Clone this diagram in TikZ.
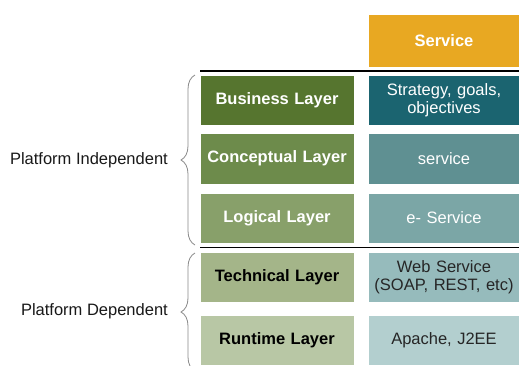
\documentclass[tikz,border=0pt]{standalone}
\usepackage{fontspec}
\setmainfont{Liberation Sans}
\usetikzlibrary{decorations.pathreplacing}
\definecolor{cService}{HTML}{E8A822}
\definecolor{cBus}{HTML}{56752F}
\definecolor{cCon}{HTML}{6D8B4B}
\definecolor{cLog}{HTML}{88A06A}
\definecolor{cTec}{HTML}{A4B589}
\definecolor{cRun}{HTML}{B8C7A5}
\definecolor{rBus}{HTML}{1B6470}
\definecolor{rCon}{HTML}{5F9092}
\definecolor{rLog}{HTML}{7BA6A6}
\definecolor{rTec}{HTML}{96BBBC}
\definecolor{rRun}{HTML}{B3CFCF}
\definecolor{braceGray}{HTML}{8A8A8A}
\tikzset{
  box/.style={rectangle, inner sep=0pt, draw=white, line width=0.6pt,
    font=\fontsize{16.5}{18.5}\selectfont, align=center, text width=150pt},
  lbox/.style={box, minimum width=154pt, minimum height=50pt, font=\fontsize{16.5}{18.5}\selectfont\bfseries},
  rbox/.style={box, minimum width=152pt, minimum height=50pt},
  sep/.style={line width=1.3pt, black},
  brc/.style={draw=braceGray, line width=0.8pt, decorate, decoration={brace, amplitude=14pt}},
  side/.style={anchor=east, inner sep=0pt, font=\fontsize{16.5}{18.5}\selectfont}
}
\begin{document}
\begin{tikzpicture}[x=1pt,y=-1pt]
\useasboundingbox[fill=white] (0,0) rectangle (519,365);
\begin{scope}
\clip (0,0) rectangle (519,365);
\node[rbox, fill=cService, text=white, font=\fontsize{16.5}{18.5}\selectfont\bfseries, minimum height=53pt] (svc) at (444,40.5) {Service};
\coordinate (l1a) at (200,71);
\coordinate (l1b) at (520,71);
\draw[sep] (l1a) -- (l1b);
\node[lbox, fill=cBus, text=white] (bus) at (277,100) {Business Layer};
\node[rbox, fill=rBus, text=white] (rbus) at (444,100) {Strategy, goals,\\objectives};
\node[lbox, fill=cCon, text=white, minimum height=51pt] (con) at (277,158.5) {Conceptual Layer};
\node[rbox, fill=rCon, text=white, minimum height=51pt] (rcon) at (444,158.5) {service};
\node[lbox, fill=cLog, text=white] (log) at (277,218) {Logical Layer};
\node[rbox, fill=rLog, text=white] (rlog) at (444,218) {e- Service};
\coordinate (l2a) at (200,247.5);
\coordinate (l2b) at (520,247.5);
\draw[sep] (l2a) -- (l2b);
\node[lbox, fill=cTec, text=black] (tec) at (277,277) {Technical Layer};
\node[rbox, fill=rTec, text=black!85] (rtec) at (444,277) {Web Service\\(SOAP, REST, etc)};
\node[lbox, fill=cRun, text=black] (run) at (277,340) {Runtime Layer};
\node[rbox, fill=rRun, text=black!85] (rrun) at (444,340) {Apache, J2EE};
\coordinate (b1t) at (195,75);
\coordinate (b1b) at (195,245);
\coordinate (b2t) at (195,253);
\coordinate (b2b) at (195,371);
\draw[brc] (b1b) -- (b1t);
\draw[brc] (b2b) -- (b2t);
\end{scope}
\node[side, text=black!90] (pi) at (168,160) {Platform Independent};
\node[side, text=black!90] (pd) at (168,311) {Platform Dependent};
\end{tikzpicture}
\end{document}
